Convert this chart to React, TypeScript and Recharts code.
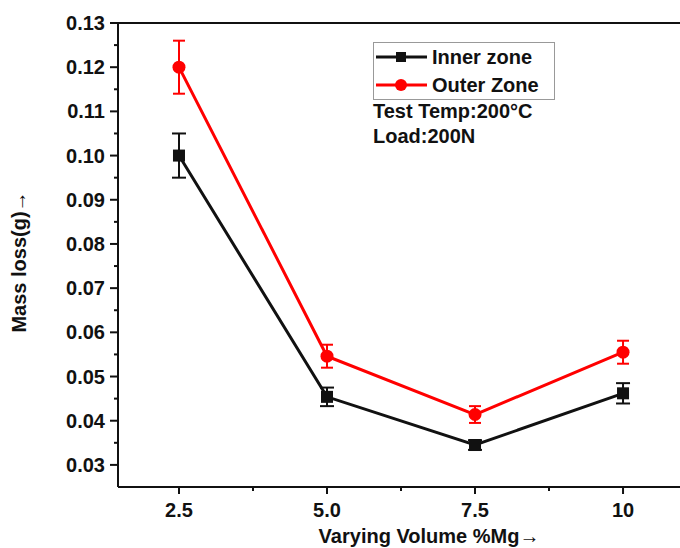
import React from "react";
import { LineChart, Line, XAxis, YAxis, ErrorBar, ReferenceLine } from "recharts";

const mgVolume = [2.5, 5.0, 7.5, 10];
const innerZone = [0.1, 0.0454, 0.0345, 0.0462];
const innerErr = [0.005, 0.0021, 0.0011, 0.0023];
const outerZone = [0.12, 0.0546, 0.0414, 0.0555];
const outerErr = [0.006, 0.0026, 0.0019, 0.0026];

const xMajorTicks = [2.5, 5.0, 7.5, 10];
const xMinorTicks = [3.75, 6.25, 8.75];
const xTickLabels = ["2.5", "5.0", "7.5", "10"];
const yMajorTicks = [0.03, 0.04, 0.05, 0.06, 0.07, 0.08, 0.09, 0.1, 0.11, 0.12, 0.13];
const yMinorTicks = [0.035, 0.045, 0.055, 0.065, 0.075, 0.085, 0.095, 0.105, 0.115, 0.125];

const data = mgVolume.map((x, i) => ({
  x,
  inner: innerZone[i],
  innerErr: innerErr[i],
  outer: outerZone[i],
  outerErr: outerErr[i],
}));

const FONT = "'Liberation Sans', Arial, sans-serif";
const INK = "#111";

const isIn = (arr: number[], v: number) => arr.some((a) => Math.abs(a - v) < 1e-9);

const XTick = (props: any) => {
  const { x, y, payload } = props;
  const v = payload.value;
  const idx = xMajorTicks.findIndex((a) => Math.abs(a - v) < 1e-9);
  if (idx < 0) {
    return <line x1={x} x2={x} y1={y} y2={y + 4} stroke={INK} strokeWidth={2} />;
  }
  return (
    <g>
      <line x1={x} x2={x} y1={y} y2={y + 7} stroke={INK} strokeWidth={2} />
      <text x={x} y={y + 23} textAnchor="middle" dominantBaseline="central" fontFamily={FONT} fontWeight="bold" fontSize={20} fill={INK}>
        {xTickLabels[idx]}
      </text>
    </g>
  );
};

const YTick = (props: any) => {
  const { x, y, payload } = props;
  const v = payload.value;
  if (!isIn(yMajorTicks, v)) {
    return <line x1={x} x2={x - 4} y1={y} y2={y} stroke={INK} strokeWidth={2} />;
  }
  return (
    <g>
      <line x1={x} x2={x - 8} y1={y} y2={y} stroke={INK} strokeWidth={2} />
      <text x={x - 13} y={y} textAnchor="end" dominantBaseline="central" fontFamily={FONT} fontWeight="bold" fontSize={20} fill={INK}>
        {v.toFixed(2)}
      </text>
    </g>
  );
};

const SquareDot = (props: any) => {
  const { cx, cy } = props;
  if (cx == null || cy == null) return null;
  return <rect x={cx - 6} y={cy - 6} width={12} height={12} fill={INK} />;
};

const CircleDot = (props: any) => {
  const { cx, cy } = props;
  if (cx == null || cy == null) return null;
  return <circle cx={cx} cy={cy} r={6.5} fill="#ff0000" />;
};

const LegendBox = () => (
  <svg width={200} height={110} style={{ position: "absolute", left: 365, top: 34, overflow: "visible" }}>
    <rect x={0.5} y={0.5} width={181} height={57} fill="none" stroke="#999" strokeWidth={1} />
    <line x1={3} x2={54} y1={15} y2={15} stroke={INK} strokeWidth={3} />
    <rect x={23} y={10} width={10} height={10} fill={INK} />
    <text x={59} y={15} dominantBaseline="central" fontFamily={FONT} fontWeight="bold" fontSize={20} fill={INK}>Inner zone</text>
    <line x1={3} x2={54} y1={43} y2={43} stroke="#ff0000" strokeWidth={3} />
    <circle cx={28} cy={43} r={6} fill="#ff0000" />
    <text x={59} y={43} dominantBaseline="central" fontFamily={FONT} fontWeight="bold" fontSize={20} fill={INK}>Outer Zone</text>
    <text x={0} y={76} fontFamily={FONT} fontWeight="bold" fontSize={20} fill={INK}>Test Temp:200°C</text>
    <text x={0} y={101} fontFamily={FONT} fontWeight="bold" fontSize={20} fill={INK}>Load:200N</text>
  </svg>
);

const XLabel = (props: any) => {
  const vb = props.viewBox || {};
  return (
    <text x={vb.x + 311} y={vb.y + 49} textAnchor="middle" dominantBaseline="central" fontFamily={FONT} fontWeight="bold" fontSize={20} fill={INK}>
      Varying Volume %Mg→
    </text>
  );
};

const YLabel = (props: any) => {
  const vb = props.viewBox || {};
  const cx = vb.x + 11;
  const cy = vb.y + vb.height / 2 + 7;
  return (
    <text x={cx} y={cy} transform={`rotate(-90 ${cx} ${cy})`} textAnchor="middle" dominantBaseline="central" fontFamily={FONT} fontWeight="bold" fontSize={20} fill={INK}>
      Mass loss(g)→
    </text>
  );
};

export default function App() {
  return (
    <div style={{ position: "fixed", left: 8, top: 8, width: 692, height: 540, background: "#fff" }}>
      <LineChart width={692} height={540} data={data} margin={{ top: 15, right: 0, bottom: 0, left: 0 }}>
        <XAxis
          type="number"
          dataKey="x"
          domain={[1.47, 11.3]}
          ticks={[...xMajorTicks, ...xMinorTicks].sort((a, b) => a - b)}
          tick={<XTick />}
          tickLine={false}
          tickSize={0}
          tickMargin={0}
          height={61}
          axisLine={{ stroke: INK, strokeWidth: 2 }}
          allowDataOverflow
          interval={0}
          label={<XLabel />}
        />
        <YAxis
          type="number"
          domain={[0.025, 0.13]}
          ticks={[...yMajorTicks, ...yMinorTicks].sort((a, b) => a - b)}
          tick={<YTick />}
          tickLine={false}
          tickSize={0}
          tickMargin={0}
          width={110}
          axisLine={{ stroke: INK, strokeWidth: 2 }}
          allowDataOverflow
          interval={0}
          label={<YLabel />}
        />
        <ReferenceLine y={0.13} stroke={INK} strokeWidth={2} />
        <Line
          type="linear"
          dataKey="inner"
          name="Inner zone"
          stroke={INK}
          strokeWidth={3}
          dot={<SquareDot />}
          activeDot={false}
          isAnimationActive={false}
        >
          <ErrorBar dataKey="innerErr" direction="y" width={7} stroke={INK} strokeWidth={2} isAnimationActive={false} />
        </Line>
        <Line
          type="linear"
          dataKey="outer"
          name="Outer Zone"
          stroke="#ff0000"
          strokeWidth={3}
          dot={<CircleDot />}
          activeDot={false}
          isAnimationActive={false}
        >
          <ErrorBar dataKey="outerErr" direction="y" width={6} stroke="#ff0000" strokeWidth={2} isAnimationActive={false} />
        </Line>
      </LineChart>
      <LegendBox />
    </div>
  );
}
